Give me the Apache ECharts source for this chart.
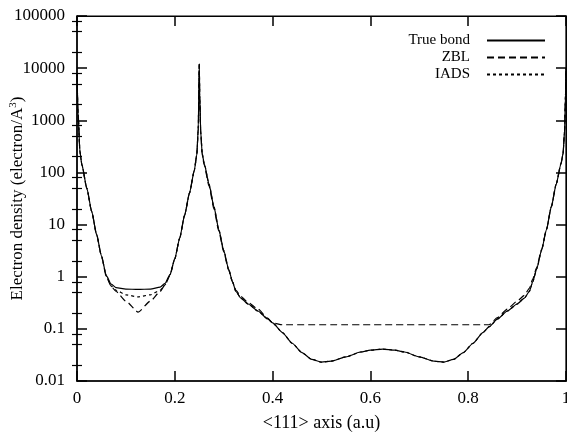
<!DOCTYPE html>
<html><head><meta charset="utf-8">
<script src="https://cdn.jsdelivr.net/npm/echarts@6/dist/echarts.min.js"></script>
<style>html,body{margin:0;padding:0;background:#fff}#c{width:567px;height:434px}</style>
</head><body><div id="c"></div>
<script>
const xs = [0,0.002,0.006,0.01,0.02,0.03,0.04,0.05,0.06,0.07,0.08,0.1,0.125,0.15,0.17,0.18,0.19,0.2,0.21,0.22,0.23,0.24,0.245,0.248,0.25,0.251,0.253,0.256,0.26,0.27,0.28,0.29,0.3,0.31,0.318,0.325,0.335,0.35,0.37,0.39,0.4,0.42,0.44,0.46,0.48,0.5,0.52,0.55,0.58,0.6,0.625,0.65,0.67,0.7,0.73,0.75,0.77,0.79,0.81,0.83,0.843,0.86,0.88,0.9,0.915,0.925,0.932,0.94,0.95,0.96,0.97,0.98,0.99,0.994,0.997,0.999,1.0];
const trueBond = [8000,1500,250,140,50,18,6.5,2.5,1.05,0.72,0.62,0.58,0.57,0.58,0.63,0.75,1.1,2.2,5.5,15,40,110,220,700,12000,3000,600,230,150,60,22,8,3.2,1.4,0.8,0.52,0.39,0.3,0.22,0.155,0.13,0.085,0.053,0.035,0.026,0.023,0.024,0.029,0.036,0.039,0.041,0.039,0.036,0.029,0.024,0.023,0.026,0.035,0.053,0.085,0.11,0.155,0.22,0.3,0.39,0.52,0.8,1.4,3.2,8,22,60,150,230,600,3000,10000];
const zbl = [8000,1500,250,140,50,18,6.5,2.5,1.0,0.65,0.52,0.34,0.21,0.34,0.52,0.7,1.05,2.2,5.5,15,40,110,220,700,12000,3000,600,220,140,55,20,7.5,3.0,1.35,0.8,0.55,0.42,0.32,0.24,0.16,0.13,0.12,0.12,0.12,0.12,0.12,0.12,0.12,0.12,0.12,0.12,0.12,0.12,0.12,0.12,0.12,0.12,0.12,0.12,0.12,0.12,0.165,0.24,0.34,0.44,0.6,0.9,1.5,3.3,8,22,60,150,230,600,3000,10000];
const iads = [8000,1500,250,140,50,18,6.5,2.5,1.02,0.66,0.55,0.45,0.41,0.45,0.55,0.7,1.08,2.2,5.5,15,40,110,220,700,12000,3000,600,230,150,60,22,8,3.2,1.4,0.8,0.52,0.39,0.3,0.22,0.155,0.13,0.085,0.053,0.035,0.026,0.023,0.024,0.029,0.036,0.039,0.041,0.039,0.036,0.029,0.024,0.023,0.026,0.035,0.053,0.085,0.11,0.155,0.22,0.3,0.39,0.52,0.8,1.4,3.2,8,22,60,150,230,600,3000,10000];
const xTicks = [0,0.2,0.4,0.6,0.8,1];
const yLabels = ['0.01','0.1','1','10','100','1000','10000','100000'];
const seriesNames = ['True bond','ZBL','IADS'];

const FONT = 'Liberation Serif';
const minorLog = [];
for (let n = -2; n <= 4; n++) { [2,5,8].forEach(k => minorLog.push(Math.log10(k) + n)); }
const pts = arr => xs.map((x,i)=>[x,arr[i]]);
const lineS = (name, data, type) => ({
  name, type:'line', data: pts(data), symbol:'circle', showSymbol:false, symbolSize:0,
  smooth:0.2, smoothMonotone:'x',
  xAxisIndex:0, yAxisIndex:0,
  lineStyle:{color:'#000', width:1.2, type}, itemStyle:{color:'#000'}
});
const legendRow = (name, top) => ({
  data:[name], orient:'vertical', right:16, top, align:'right', itemWidth:58, itemHeight:12,
  itemGap:0, itemStyle:{opacity:0},
  textStyle:{fontFamily:FONT, fontSize:15, color:'#000', padding:[0,12,0,0]}, selectedMode:false
});
const chart = echarts.init(document.getElementById('c'));
chart.setOption({
  animation:false,
  grid:{left:77, right:1, top:16, bottom:53, outerBoundsMode:'none', containLabel:false,
        show:true, borderColor:'#000', borderWidth:1.2},
  legend:[legendRow(seriesNames[0],28),legendRow(seriesNames[1],45),legendRow(seriesNames[2],62)],
  xAxis:[
    {type:'value', min:0, max:1, interval:0.2, position:'bottom',
     axisLine:{onZero:false, lineStyle:{color:'#000', width:1.5}},
     axisTick:{inside:true, length:10, lineStyle:{color:'#000', width:1.5}},
     axisLabel:{margin:9, fontFamily:FONT, fontSize:17, color:'#000', formatter:v=>String(+v.toFixed(1))},
     splitLine:{show:false},
     name:'<111> axis (a.u)', nameLocation:'middle', nameGap:33, nameMoveOverlap:false,
     nameTextStyle:{fontFamily:FONT, fontSize:18, color:'#000'}},
    {type:'value', min:0, max:1, interval:0.2, position:'top',
     axisLine:{onZero:false, lineStyle:{color:'#000', width:1.2}},
     axisTick:{inside:true, length:10, lineStyle:{color:'#000', width:1.5}},
     axisLabel:{show:false}, splitLine:{show:false}}
  ],
  yAxis:[
    {type:'log', logBase:10, min:0.01, max:100000, position:'left',
     axisLine:{onZero:false, lineStyle:{color:'#000', width:1.5}},
     axisTick:{inside:true, length:10, lineStyle:{color:'#000', width:1.5}},
     axisLabel:{margin:12, fontFamily:FONT, fontSize:17, color:'#000',
       formatter:v=>{const i=Math.round(Math.log10(v))+2; return yLabels[i]!==undefined?yLabels[i]:'';}},
     splitLine:{show:false},
     name:'Electron density (electron/A{sup|3})', nameLocation:'middle', nameGap:50, nameMoveOverlap:false,
     nameTextStyle:{fontFamily:FONT, fontSize:17, color:'#000',
       rich:{sup:{fontFamily:FONT, fontSize:11, color:'#000', verticalAlign:'top', padding:[0,0,8,0]}}}},
    {type:'value', min:-2, max:5, position:'left', axisLine:{show:false},
     axisTick:{inside:true, length:5, customValues:minorLog, lineStyle:{color:'#000', width:1.2}},
     axisLabel:{show:false}, splitLine:{show:false}},
    {type:'log', logBase:10, min:0.01, max:100000, position:'right',
     axisLine:{onZero:false, lineStyle:{color:'#000', width:1.2}},
     axisTick:{inside:true, length:10, lineStyle:{color:'#000', width:1.5}},
     axisLabel:{show:false}, splitLine:{show:false}},
    {type:'value', min:-2, max:5, position:'right', axisLine:{show:false},
     axisTick:{inside:true, length:5, customValues:minorLog, lineStyle:{color:'#000', width:1.2}},
     axisLabel:{show:false}, splitLine:{show:false}}
  ],
  series:[
    lineS(seriesNames[0], trueBond, 'solid'),
    lineS(seriesNames[1], zbl, [7,4]),
    lineS(seriesNames[2], iads, [3,3])
  ]
});
</script></body></html>
